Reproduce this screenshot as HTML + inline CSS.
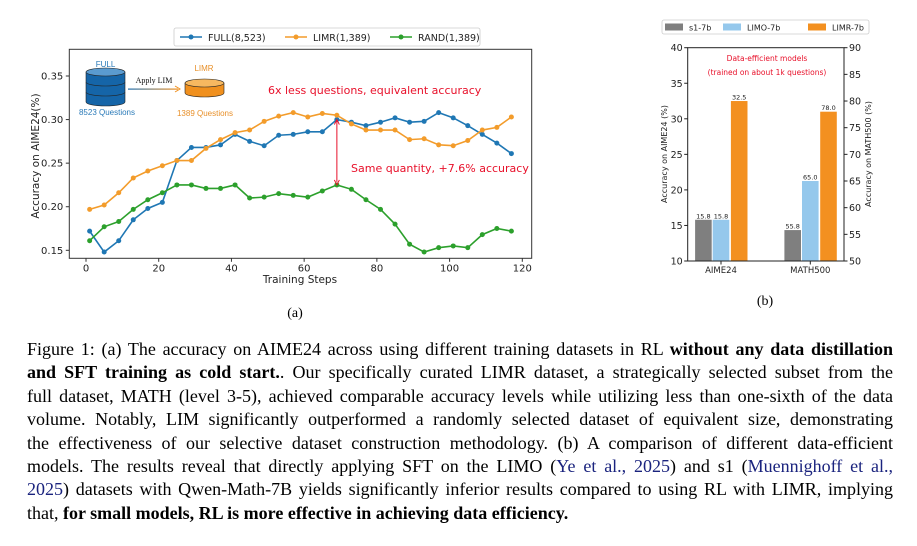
<!DOCTYPE html>
<html><head><meta charset="utf-8">
<style>
html,body{margin:0;padding:0;background:#fff;}
body{width:917px;height:546px;position:relative;overflow:hidden;}
svg{position:absolute;left:0;top:0;}
.cap{position:absolute;left:27px;width:866px;font-family:"Liberation Serif",serif;font-size:18px;color:#000;}
.cap div{height:23.4px;line-height:23.4px;text-align:justify;text-align-last:justify;white-space:nowrap;}
.cap div.last{text-align-last:left;}
.cap a{color:#1a237e;text-decoration:none;}
</style></head>
<body>
<svg id="chart" width="917" height="330" xmlns="http://www.w3.org/2000/svg" font-family="'DejaVu Sans','Liberation Sans',sans-serif"></svg>
<div class="cap" style="top:338px">
<div>Figure 1: (a) The accuracy on AIME24 across using different training datasets in RL <b>without any data distillation</b></div>
<div><b>and SFT training as cold start.</b>. Our specifically curated LIMR dataset, a strategically selected subset from the</div>
<div>full dataset, MATH (level 3-5), achieved comparable accuracy levels while utilizing less than one-sixth of the data</div>
<div>volume. Notably, LIM significantly outperformed a randomly selected dataset of equivalent size, demonstrating</div>
<div>the effectiveness of our selective dataset construction methodology. (b) A comparison of different data-efficient</div>
<div>models. The results reveal that directly applying SFT on the LIMO (<a>Ye et al., 2025</a>) and s1 (<a>Muennighoff et al.,</a></div>
<div><a>2025</a>) datasets with Qwen-Math-7B yields significantly inferior results compared to using RL with LIMR, implying</div>
<div class="last">that, <b>for small models, RL is more effective in achieving data efficiency.</b></div>
</div>
<script>
const steps=[1,5,9,13,17,21,25,29,33,37,41,45,49,53,57,61,65,69,73,77,81,85,89,93,97,101,105,109,113,117];
const fullVals=[.172,.148,.161,.185,.198,.205,.253,.268,.268,.271,.283,.275,.270,.282,.283,.286,.286,.300,.297,.293,.297,.302,.297,.298,.308,.302,.293,.283,.273,.261];
const limrVals=[.197,.202,.216,.233,.241,.247,.253,.253,.267,.277,.285,.288,.298,.304,.308,.303,.307,.305,.295,.288,.288,.288,.277,.278,.271,.270,.276,.288,.291,.303];
const randVals=[.161,.177,.183,.197,.208,.216,.225,.225,.221,.221,.225,.210,.211,.215,.213,.211,.218,.225,.220,.208,.197,.180,.157,.148,.153,.155,.153,.168,.175,.172];
const seriesNames=["FULL(8,523)","LIMR(1,389)","RAND(1,389)"];
const xTicks=[0,20,40,60,80,100,120];
const yTicks=[0.15,0.20,0.25,0.30,0.35];
const barCats=["AIME24","MATH500"];
const barModels=["s1-7b","LIMO-7b","LIMR-7b"];
const aimeVals=[15.8,15.8,32.5];
const mathVals=[55.8,65.0,78.0];
const leftTicks=[10,15,20,25,30,35,40];
const rightTicks=[50,55,60,65,70,75,80,85,90];

const svg=document.getElementById('chart');
const NS='http://www.w3.org/2000/svg';
function el(tag,attrs,parent){const e=document.createElementNS(NS,tag);for(const k in attrs)e.setAttribute(k,attrs[k]);(parent||svg).appendChild(e);return e;}
function txt(s,attrs,parent){const e=el('text',attrs,parent);e.textContent=s;return e;}

// ---- chart (a)
const L=69.3,R=531.7,T=49.3,B=258.3;
const xs=v=>86+(v-0)*(522.3-86)/120;
const ys=v=>250.3-(v-0.15)*(250.3-76)/0.2;
const ga=el('g',{});


const fr=el('rect',{x:L,y:T,width:R-L,height:B-T,fill:'none',stroke:'#333','stroke-width':1},ga);


xTicks.forEach(t=>{el('line',{x1:xs(t),x2:xs(t),y1:B,y2:B+3.5,stroke:'#333'},ga);
 const l=txt(String(t),{x:xs(t),y:B+13,'font-size':10,'text-anchor':'middle',fill:'#222'},ga);
 
 });
yTicks.forEach(t=>{el('line',{x1:L-3.5,x2:L,y1:ys(t),y2:ys(t),stroke:'#333'},ga);
 const l=txt(t.toFixed(2),{x:L-6,y:ys(t)+3.5,'font-size':10,'text-anchor':'end',fill:'#222'},ga);
 
 });
const xt=txt('Training Steps',{x:300,y:283,'font-size':10.5,'text-anchor':'middle',fill:'#222'},ga);


const yt=txt('Accuracy on AIME24(%)',{x:0,y:0,'font-size':10.5,'text-anchor':'middle',fill:'#222',transform:'translate(39,156) rotate(-90)'},ga);


const colors=['#1f77b4','#f39c2b','#2ca02c'];
const allVals=[fullVals,limrVals,randVals];
const keys=['full','limr','rand'];
allVals.forEach((vals,i)=>{
 const p=el('polyline',{points:vals.map((v,j)=>xs(steps[j])+','+ys(v)).join(' '),fill:'none',stroke:colors[i],'stroke-width':1.6},ga);
 
 
 vals.forEach((v,j)=>{const c=el('circle',{cx:xs(steps[j]),cy:ys(v),r:2.5,fill:colors[i]},ga);
  
  });
});
const ax=xs(69);
el('line',{x1:ax,x2:ax,y1:ys(.300),y2:ys(.225)-3,stroke:'#e8102a','stroke-width':1},ga);
el('path',{d:`M${ax-2.5},${ys(.225)-5} L${ax},${ys(.225)} L${ax+2.5},${ys(.225)-5}`,fill:'none',stroke:'#e8102a','stroke-width':1},ga);
el('path',{d:`M${ax-2.5},${ys(.300)+5} L${ax},${ys(.300)} L${ax+2.5},${ys(.300)+5}`,fill:'none',stroke:'#e8102a','stroke-width':1},ga);
const a1=txt('6x less questions, equivalent accuracy',{x:268,y:94,'font-size':11,fill:'#e8102a'},ga);


const a2=txt('Same quantity, +7.6% accuracy',{x:351,y:172,'font-size':11,fill:'#e8102a'},ga);


const ins=el('g',{},ga);


el('path',{d:'M86,72 L86,102 A19.5,4 0 0 0 125,102 L125,72 Z',fill:'#1565a8',stroke:'#222','stroke-width':0.6},ins);
el('ellipse',{cx:105.5,cy:72,rx:19.5,ry:4,fill:'#5a9bd0',stroke:'#222','stroke-width':0.6},ins);
el('path',{d:'M86,82 A19.5,4 0 0 0 125,82 M86,92 A19.5,4 0 0 0 125,92',fill:'none',stroke:'#222','stroke-width':0.6},ins);
el('path',{d:'M185,83 L185,93 A19.5,4 0 0 0 224,93 L224,83 Z',fill:'#f0901e',stroke:'#222','stroke-width':0.6},ins);
el('ellipse',{cx:204.5,cy:83,rx:19.5,ry:4,fill:'#f7b860',stroke:'#222','stroke-width':0.6},ins);
const gr=el('linearGradient',{id:'ag',x1:0,x2:1,y1:0,y2:0},el('defs',{},ins));
el('stop',{offset:0,'stop-color':'#1f6fb0'},gr);el('stop',{offset:1,'stop-color':'#f0901e'},gr);
el('rect',{x:128,y:88.5,width:50,height:1.2,fill:'url(#ag)'},ins);
el('path',{d:'M175,86 L180,89 L175,92',fill:'none',stroke:'#f0901e','stroke-width':1},ins);
txt('FULL',{x:105.5,y:67,'font-size':8,'text-anchor':'middle',fill:'#2a7ab8','font-family':'Liberation Sans,sans-serif'},ins);
txt('8523 Questions',{x:107,y:115,'font-size':8,'text-anchor':'middle',fill:'#2a7ab8','font-family':'Liberation Sans,sans-serif'},ins);
txt('LIMR',{x:204,y:71,'font-size':8,'text-anchor':'middle',fill:'#e8902a','font-family':'Liberation Sans,sans-serif'},ins);
txt('1389 Questions',{x:205,y:116,'font-size':8,'text-anchor':'middle',fill:'#e8902a','font-family':'Liberation Sans,sans-serif'},ins);
txt('Apply LIM',{x:154,y:83,'font-size':8,'text-anchor':'middle',fill:'#111','font-family':'Liberation Serif,serif'},ins);
const lg=el('g',{},ga);


el('rect',{x:174,y:28,width:306,height:18,fill:'#fff',stroke:'#ccc','stroke-width':0.8,rx:2},lg);
const lx=[180,285,390];
seriesNames.forEach((n,i)=>{
 const e=el('g',{},lg);
 
 
 el('line',{x1:lx[i],x2:lx[i]+22,y1:37,y2:37,stroke:colors[i],'stroke-width':1.6},e);
 el('circle',{cx:lx[i]+11,cy:37,r:2.5,fill:colors[i]},e);
 txt(n,{x:lx[i]+28,y:41,'font-size':9.5,fill:'#222'},e);
});
txt('(a)',{x:295,y:317,'font-size':14,'text-anchor':'middle','font-family':'Liberation Serif,serif'});

// ---- chart (b)
const bL=687.7,bR=844,bT=47.7,bB=261;
const yl=v=>bB-(v-10)*(bB-bT)/30;
const yr=v=>bB-(v-50)*(bB-bT)/40;
const gb=el('g',{});


const barColors=['#7f7f7f','#95c8ec','#f39020'];
const catCenter=[721,810.3];
const bw=16.6,off=[-17.6,0,18.2];
[aimeVals,mathVals].forEach((vals,ci)=>{
 vals.forEach((v,mi)=>{
  const y=ci===0?yl(v):yr(v);
  const x=catCenter[ci]+off[mi]-bw/2;
  const r=el('rect',{x:x,y:y,width:bw,height:bB-y,fill:barColors[mi]},gb);
  
  
  const l=txt(v.toFixed(1),{x:x+bw/2,y:y-1.5,'font-size':6.5,'text-anchor':'middle',fill:'#222'},gb);
  
  
 });
});
el('rect',{x:bL,y:bT,width:bR-bL,height:bB-bT,fill:'none',stroke:'#222','stroke-width':1},gb);
leftTicks.forEach(t=>{el('line',{x1:bL-3.5,x2:bL,y1:yl(t),y2:yl(t),stroke:'#222'},gb);
 const l=txt(String(t),{x:bL-5,y:yl(t)+3.5,'font-size':9.5,'text-anchor':'end',fill:'#222'},gb);
 
 });
rightTicks.forEach(t=>{el('line',{x1:bR,x2:bR+3.5,y1:yr(t),y2:yr(t),stroke:'#222'},gb);
 const l=txt(String(t),{x:bR+5,y:yr(t)+3.5,'font-size':9.5,fill:'#222'},gb);
 
 });
barCats.forEach((c,i)=>{el('line',{x1:catCenter[i],x2:catCenter[i],y1:bB,y2:bB+3.5,stroke:'#222'},gb);
 const l=txt(c,{x:catCenter[i],y:bB+12,'font-size':8.5,'text-anchor':'middle',fill:'#222'},gb);
 
 });
const ly=txt('Accuracy on AIME24 (%)',{x:0,y:0,'font-size':8,'text-anchor':'middle',fill:'#222',transform:'translate(667,154) rotate(-90)'},gb);


const ry=txt('Accuracy on MATH500 (%)',{x:0,y:0,'font-size':8,'text-anchor':'middle',fill:'#222',transform:'translate(871,154) rotate(-90)'},gb);


txt('Data-efficient models',{x:767,y:61,'font-size':7.5,'text-anchor':'middle',fill:'#e8102a'},gb);
txt('(trained on about 1k questions)',{x:767,y:75,'font-size':7.5,'text-anchor':'middle',fill:'#e8102a'},gb);
const lb=el('g',{},gb);


el('rect',{x:662,y:20,width:207,height:14,fill:'#fff',stroke:'#ccc','stroke-width':0.8,rx:2},lb);
const lbx=[665,723,808];
barModels.forEach((m,i)=>{
 const e=el('g',{},lb);
 
 
 el('rect',{x:lbx[i],y:23.5,width:18,height:7,fill:barColors[i]},e);
 txt(m,{x:lbx[i]+24,y:30.5,'font-size':8,fill:'#222'},e);
});
txt('(b)',{x:765,y:305,'font-size':14,'text-anchor':'middle','font-family':'Liberation Serif,serif'});
</script>
</body></html>
